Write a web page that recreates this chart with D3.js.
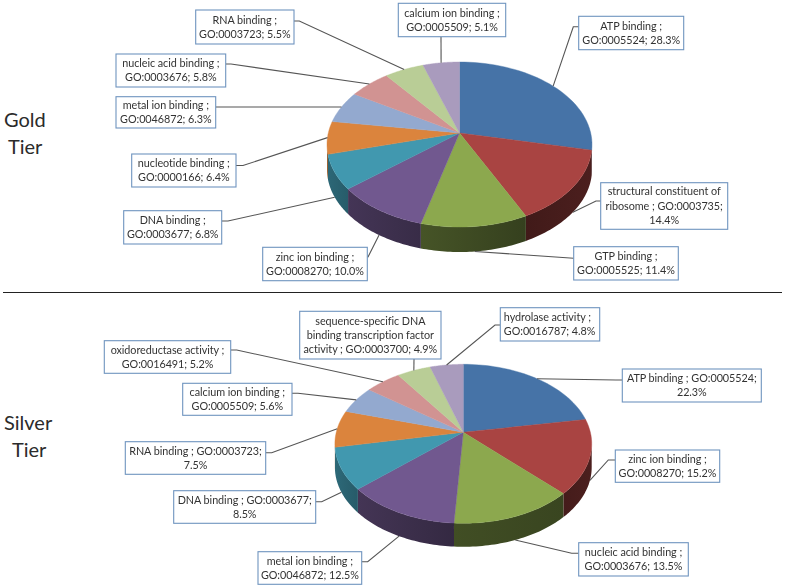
<!DOCTYPE html>
<html>
<head>
<meta charset="utf-8">
<script src="https://cdn.jsdelivr.net/npm/d3@7"></script>
<style>
  html, body { margin: 0; background: #fff; }
  svg { display: block; }
  .callout { font-family: Lato, "Open Sans", sans-serif; font-size: 10.8px; letter-spacing: -0.05px; fill: #333; }
  .tier { font-family: Lato, "Open Sans", sans-serif; font-size: 20px; fill: #2b2b2b; }
</style>
</head>
<body>
<div id="chart"></div>
<script>
// slice colours, same order for both pies
let sliceColors = ["#4673a7", "#a94442", "#8ca84e", "#71588f", "#4198af", "#db843d", "#93a9cf", "#d19392", "#b9cd96", "#a99bbd"]

// gold tier
let goldValues = [28.3, 14.4, 11.4, 10.0, 6.8, 6.4, 6.3, 5.8, 5.5, 5.1]
let goldLabels = [
    ["ATP binding ;", "GO:0005524; 28.3%"],
    ["structural constituent of", "ribosome ; GO:0003735;", "14.4%"],
    ["GTP binding ;", "GO:0005525; 11.4%"],
    ["zinc ion binding ;", "GO:0008270; 10.0%"],
    ["DNA binding ;", "GO:0003677; 6.8%"],
    ["nucleotide binding ;", "GO:0000166; 6.4%"],
    ["metal ion binding ;", "GO:0046872; 6.3%"],
    ["nucleic acid binding ;", "GO:0003676; 5.8%"],
    ["RNA binding ;", "GO:0003723; 5.5%"],
    ["calcium ion binding ;", "GO:0005509; 5.1%"]
]

// silver tier
let silverValues = [22.3, 15.2, 13.5, 12.5, 8.5, 7.5, 5.6, 5.2, 4.9, 4.8]
let silverLabels = [
    ["ATP binding ; GO:0005524;", "22.3%"],
    ["zinc ion binding ;", "GO:0008270; 15.2%"],
    ["nucleic acid binding ;", "GO:0003676; 13.5%"],
    ["metal ion binding ;", "GO:0046872; 12.5%"],
    ["DNA binding ; GO:0003677;", "8.5%"],
    ["RNA binding ; GO:0003723;", "7.5%"],
    ["calcium ion binding ;", "GO:0005509; 5.6%"],
    ["oxidoreductase activity ;", "GO:0016491; 5.2%"],
    ["sequence-specific DNA", "binding transcription factor", "activity ; GO:0003700; 4.9%"],
    ["hydrolase activity ;", "GO:0016787; 4.8%"]
]

// layout only: label box [x0, y0, x1, y1] and where its leader leaves it [startX, startY, elbowX, elbowY]
let goldBoxes = [
    [[578.7, 16.3, 683.7, 49.7], [578.7, 26.7, 573.3, 26.7]],
    [[600.7, 182.7, 727.7, 229.3], [600.7, 201, 596, 201]],
    [[573.7, 246.7, 678.3, 280], [573.7, 258.3, 573.7, 258.3]],
    [[262.7, 247.3, 367.3, 280.7], [367.3, 257, 368, 257]],
    [[123.7, 210.7, 221.7, 244], [221.7, 221, 228, 221]],
    [[131.7, 154, 236, 187], [236, 165.5, 243, 165.5]],
    [[116, 96.7, 215.7, 128], [215.7, 107, 220, 107]],
    [[116, 54, 225.7, 87], [225.7, 64, 231, 64]],
    [[195.7, 10, 294, 44], [294, 21, 299.3, 21]],
    [[398.3, 3.3, 505.7, 36.7], [441, 36.7, 441, 36.7]]
]
let silverBoxes = [
    [[622.3, 369, 761.3, 402], [622.3, 380, 616, 380]],
    [[615.3, 450, 719.7, 482.3], [615.3, 460, 608.3, 460]],
    [[578.7, 542.7, 688.3, 576], [578.7, 553.3, 571.7, 553.3]],
    [[258, 551.7, 361.7, 584.3], [361.7, 561.7, 367.7, 561.7]],
    [[173.7, 490.7, 315.7, 523.3], [315.7, 501.7, 321.7, 501.7]],
    [[125.3, 441.7, 265.7, 474.3], [265.7, 452.7, 271.7, 452.7]],
    [[182.7, 383.3, 292, 415.3], [292, 393.3, 298, 393.3]],
    [[104.3, 340.7, 230.7, 373.3], [230.7, 350, 236.7, 350]],
    [[299.7, 311.3, 441, 359], [414, 359, 414, 359]],
    [[500.3, 307.7, 599.7, 341], [500.3, 325, 495, 325]]
]

let width = 786
let height = 588

let svg = d3.select("#chart").append("svg")
    .attr("width", width).attr("height", height)

let defs = svg.append("defs")
defs.append("filter").attr("id", "soft")
    .attr("x", "-5%").attr("y", "-5%").attr("width", "110%").attr("height", "110%")
    .append("feGaussianBlur").attr("stdDeviation", 0.3)

// how much light the side wall gets, by angle in degrees
let wallLight = d3.scaleLinear().domain([105, 155, 270]).range([0.45, 0.38, 0.72]).clamp(true)

function shade(color, amount) {
    let c = d3.rgb(color)
    return d3.rgb(c.r * amount, c.g * amount, c.b * amount).formatHex()
}

// cfg: cx, apexY, topR (px above apex), botR (px below apex), rx, depth
function drawTier(id, values, labels, boxes, cfg) {
    let k = (cfg.botR - cfg.topR) / (cfg.botR + cfg.topR) //perspective factor
    let a = cfg.botR * (1 - k)
    let r = cfg.rx * Math.sqrt(1 - k * k)

    let project = (t) => {
        let x = Math.sin(t), y = -Math.cos(t)
        return [cfg.cx + r * x / (1 - k * y), cfg.apexY + a * y / (1 - k * y)]
    }
    let arcPoints = (t0, t1) => d3.range(0, 41).map((i) => project(t0 + (t1 - t0) * i / 40))
    let line = d3.line()

    let slices = d3.pie().sort(null).value((d) => d)(values)
    let g = svg.append("g").attr("id", id)

    // front wall only runs between the left and right edge of the ellipse
    let wallStart = Math.PI / 2 + Math.asin(k)
    let wallEnd = 2 * Math.PI - wallStart

    slices.forEach((s, i) => {
        let t0 = Math.max(s.startAngle, wallStart)
        let t1 = Math.min(s.endAngle, wallEnd)
        if (t1 <= t0) return
        let upper = arcPoints(t0, t1)
        let lower = upper.map((p) => [p[0], p[1] + cfg.depth]).reverse()
        let gradId = id + "-wall-" + i
        let grad = defs.append("linearGradient").attr("id", gradId)
            .attr("gradientUnits", "userSpaceOnUse")
            .attr("x1", upper[0][0]).attr("y1", 0)
            .attr("x2", upper[40][0]).attr("y2", 0)
        grad.append("stop").attr("offset", 0).attr("stop-color", shade(sliceColors[i], wallLight(t0 * 180 / Math.PI)))
        grad.append("stop").attr("offset", 1).attr("stop-color", shade(sliceColors[i], wallLight(t1 * 180 / Math.PI)))
        g.append("path")
            .attr("d", line(upper.concat(lower)) + "Z")
            .attr("fill", "url(#" + gradId + ")")
    })

    // top faces
    g.selectAll(".slice")
        .data(slices)
        .enter()
        .append("path")
        .attr("class", "slice")
        .attr("d", (d) => line([[cfg.cx, cfg.apexY]].concat(arcPoints(d.startAngle, d.endAngle))) + "Z")
        .attr("fill", (d, i) => sliceColors[i])
        .attr("stroke", (d, i) => sliceColors[i])
        .attr("stroke-width", 0.4)

    // leaders, they end at the middle of the slice rim (bottom of the wall for front slices)
    g.selectAll(".leader")
        .data(slices)
        .enter()
        .append("polyline")
        .attr("class", "leader")
        .attr("points", (d, i) => {
            let mid = (d.startAngle + d.endAngle) / 2
            let end = project(mid)
            if (-Math.cos(mid) > 0.25) end[1] += cfg.depth
            let lead = boxes[i][1]
            return [lead[0], lead[1], lead[2], lead[3], end[0], end[1]].join(",")
        })
        .attr("fill", "none")
        .attr("stroke", "#555")
        .attr("stroke-width", 1.1)

    // label boxes
    g.selectAll(".box")
        .data(boxes)
        .enter()
        .append("rect")
        .attr("class", "box")
        .attr("x", (d) => d[0][0])
        .attr("y", (d) => d[0][1])
        .attr("width", (d) => d[0][2] - d[0][0])
        .attr("height", (d) => d[0][3] - d[0][1])
        .attr("fill", "#fff")
        .attr("stroke", "#6f94bf")
        .attr("stroke-width", 1.1)

    let lineGap = 14.3
    labels.forEach((lines, i) => {
        let box = boxes[i][0]
        let mid = (box[1] + box[3]) / 2
        let leftAligned = lines[0].startsWith("hydrolase")
        g.append("text")
            .attr("class", "callout")
            .attr("filter", "url(#soft)")
            .attr("text-anchor", leftAligned ? "start" : "middle")
            .selectAll("tspan")
            .data(lines)
            .enter()
            .append("tspan")
            .attr("x", leftAligned ? box[0] + 3.5 : (box[0] + box[2]) / 2)
            .attr("y", (d, j) => mid - lines.length * lineGap / 2 + 10.8 + j * lineGap)
            .text((d) => d)
    })
}

drawTier("gold", goldValues, goldLabels, goldBoxes,
    { cx: 459.5, apexY: 133, topR: 71, botR: 94, rx: 132.5, depth: 25 })
drawTier("silver", silverValues, silverLabels, silverBoxes,
    { cx: 463.3, apexY: 432.3, topR: 68, botR: 91, rx: 128.4, depth: 23.5 })

// divider between the tiers
svg.append("line")
    .attr("x1", 3).attr("x2", 782).attr("y1", 292.5).attr("y2", 292.5)
    .attr("stroke", "#222").attr("stroke-width", 1)

// tier names on the left
let tierNames = [["Gold", 4, 127], ["Tier", 8, 154], ["Silver", 4, 430], ["Tier", 12, 457]]
svg.selectAll(".tier")
    .data(tierNames)
    .enter()
    .append("text")
    .attr("class", "tier")
    .attr("x", (d) => d[1])
    .attr("y", (d) => d[2])
    .text((d) => d[0])
</script>
</body>
</html>
